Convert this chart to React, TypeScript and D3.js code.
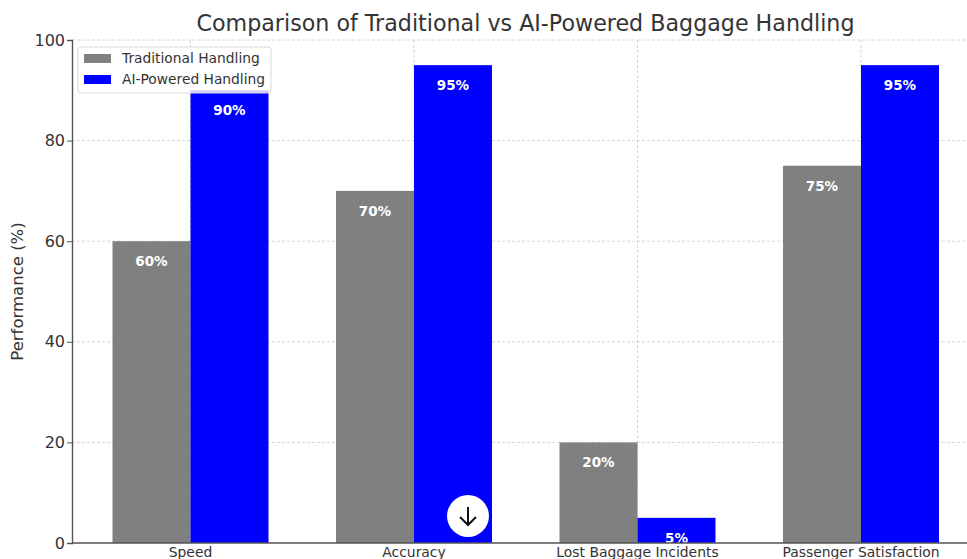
import { useEffect, useRef } from "react";
import { axisBottom, axisLeft, scaleBand, scaleLinear, select } from "d3";

const CATEGORIES = ["Speed", "Accuracy", "Lost Baggage Incidents", "Passenger Satisfaction"];
const SERIES_NAMES = ["Traditional Handling", "AI-Powered Handling"];
const TRADITIONAL = [60, 70, 20, 75];
const AI_POWERED = [90, 95, 5, 95];
const Y_TICKS = [0, 20, 40, 60, 80, 100];

const WIDTH = 967;
const HEIGHT = 559;
const LEFT = 72;
const TOP = 40;
const BOTTOM = 543;
const FONT = "'DejaVu Sans', sans-serif";
const GRAY = "#808080";
const BLUE = "#0000ff";
const TEXT = "#333333";
const SPINE = "#555555";
const GRID = "#cccccc";
const COLORS = [GRAY, BLUE];

export default function App() {
  const svgRef = useRef<SVGSVGElement>(null);

  useEffect(() => {
    const svg = select(svgRef.current);
    svg.selectAll("*").remove();
    svg.attr("width", WIDTH).attr("height", HEIGHT).style("font-family", FONT);

    const y = scaleLinear().domain([0, 100]).range([BOTTOM, TOP]);
    const x = scaleBand<string>()
      .domain(CATEGORIES)
      .range([78.75, 972.75])
      .paddingInner(0.302)
      .paddingOuter(0.151);
    const inner = scaleBand<string>().domain(SERIES_NAMES).range([0, x.bandwidth()]);

    // Dashed grid sits under the bars
    const grid = svg.append("g");
    Y_TICKS.filter((t) => t > 0).forEach((t) => {
      grid.append("line")
        .attr("x1", LEFT).attr("x2", WIDTH)
        .attr("y1", y(t)).attr("y2", y(t))
        .attr("stroke", GRID).attr("stroke-width", 0.8).attr("stroke-dasharray", "3,2");
    });
    CATEGORIES.forEach((c) => {
      const cx = (x(c) ?? 0) + x.bandwidth() / 2;
      grid.append("line")
        .attr("x1", cx).attr("x2", cx)
        .attr("y1", TOP).attr("y2", BOTTOM)
        .attr("stroke", GRID).attr("stroke-width", 0.8).attr("stroke-dasharray", "3,2");
    });

    // Labels get cut at the axis line, like the short 5% bar
    svg.append("defs").append("clipPath").attr("id", "plot-clip")
      .append("rect").attr("x", 0).attr("y", 0).attr("width", WIDTH).attr("height", BOTTOM);

    // Bars and their labels
    [TRADITIONAL, AI_POWERED].forEach((values, s) => {
      values.forEach((v, i) => {
        const bx = (x(CATEGORIES[i]) ?? 0) + (inner(SERIES_NAMES[s]) ?? 0);
        svg.append("rect")
          .attr("x", bx).attr("y", y(v))
          .attr("width", inner.bandwidth()).attr("height", BOTTOM - y(v))
          .attr("fill", COLORS[s]);
        svg.append("text")
          .attr("x", bx + inner.bandwidth() / 2)
          .attr("y", y(v) + 25)
          .attr("clip-path", "url(#plot-clip)")
          .attr("text-anchor", "middle")
          .attr("fill", "#ffffff")
          .attr("font-size", 13.5)
          .attr("font-weight", 700)
          .text(`${v}%`);
      });
    });

    // Y axis
    const yAxis = svg.append("g")
      .attr("transform", `translate(${LEFT},0)`)
      .call(axisLeft(y).tickValues(Y_TICKS).tickSize(5).tickPadding(2));
    yAxis.select(".domain").attr("stroke", SPINE).attr("stroke-width", 1.4);
    yAxis.selectAll(".tick line").attr("stroke", SPINE);
    yAxis.selectAll("text").attr("font-size", 16).attr("font-family", FONT).attr("fill", TEXT);

    // X axis
    const xAxis = svg.append("g")
      .attr("transform", `translate(0,${BOTTOM})`)
      .call(axisBottom(x).tickSize(0).tickPadding(4));
    xAxis.select(".domain").remove();
    svg.append("line")
      .attr("x1", LEFT).attr("x2", WIDTH)
      .attr("y1", BOTTOM).attr("y2", BOTTOM)
      .attr("stroke", SPINE).attr("stroke-width", 1.4);
    xAxis.selectAll("text").attr("font-size", 13.9).attr("font-family", FONT).attr("fill", TEXT);

    // Titles
    svg.append("text")
      .attr("x", 525.5).attr("y", 31)
      .attr("text-anchor", "middle")
      .attr("fill", TEXT)
      .attr("font-size", 22.2)
      .text("Comparison of Traditional vs AI-Powered Baggage Handling");
    svg.append("text")
      .attr("transform", `translate(23,${(TOP + BOTTOM) / 2}) rotate(-90)`)
      .attr("text-anchor", "middle")
      .attr("fill", TEXT)
      .attr("font-size", 16.5)
      .text("Performance (%)");

    // Legend
    const legend = svg.append("g").attr("transform", "translate(78,47)");
    legend.append("rect")
      .attr("width", 193).attr("height", 46).attr("rx", 3)
      .attr("fill", "#ffffff").attr("fill-opacity", 0.8)
      .attr("stroke", "#d9d9d9");
    SERIES_NAMES.forEach((name, i) => {
      legend.append("rect")
        .attr("x", 6).attr("y", 7 + i * 21)
        .attr("width", 27).attr("height", 9)
        .attr("fill", COLORS[i]);
      legend.append("text")
        .attr("x", 44).attr("y", 16 + i * 21)
        .attr("fill", TEXT)
        .attr("font-size", 13.8)
        .text(name);
    });

    // Round scroll button over the second blue bar
    const btn = svg.append("g").attr("transform", "translate(468,516)");
    btn.append("circle").attr("r", 21).attr("fill", "#ffffff");
    btn.append("path")
      .attr("d", "M0,-9V9M-8,1L0,9L8,1")
      .attr("fill", "none")
      .attr("stroke", "#111111")
      .attr("stroke-width", 2);
  }, []);

  return <svg ref={svgRef} style={{ position: "absolute", left: 0, top: 0 }} />;
}
